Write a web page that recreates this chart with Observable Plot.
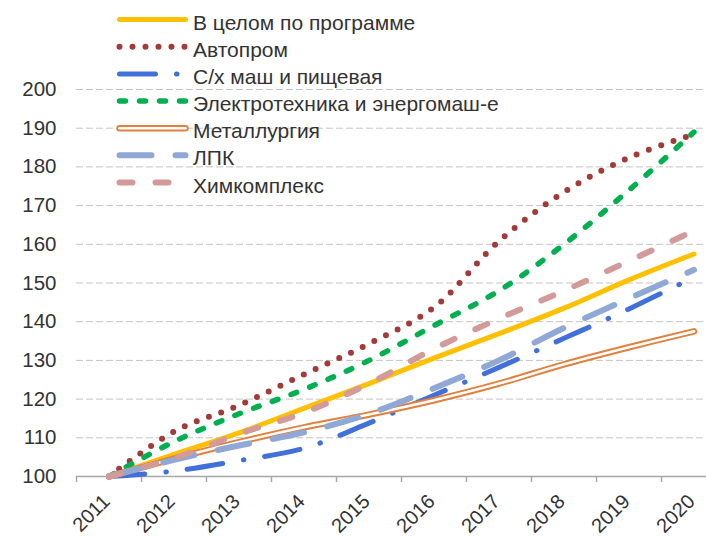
<!DOCTYPE html>
<html><head><meta charset="utf-8">
<script src="https://cdn.jsdelivr.net/npm/d3@7"></script>
<script src="https://cdn.jsdelivr.net/npm/@observablehq/plot@0.6"></script>
<style>
body{margin:0;background:#fff;}
#chart{position:relative;width:706px;height:536px;overflow:hidden;font-family:"Liberation Sans",Arial,sans-serif;}
#legend{position:absolute;left:0;top:0;pointer-events:none;}
</style></head><body><div id="chart"></div>
<script>
// ---- data ----
const years = [2011, 2012, 2013, 2014, 2015, 2016, 2017, 2018, 2019, 2020];
const yTicks = [100, 110, 120, 130, 140, 150, 160, 170, 180, 190, 200];
const seriesNames = [
  "В целом по программе",
  "Автопром",
  "С/х маш и пищевая",
  "Электротехника и энергомаш-е",
  "Металлургия",
  "ЛПК",
  "Химкомплекс"
];
const programme = [100, 105.7, 111.3, 117.6, 124.0, 130.6, 136.9, 143.5, 150.8, 157.5];
const autoprom  = [100, 111.6, 118.4, 126.4, 134.3, 143.7, 160.8, 173.5, 182.4, 188.4];
const agriFood  = [100, 101.4, 104.1, 107.3, 113.8, 121.0, 128.2, 135.7, 143.3, 151.5];
const electro   = [100, 109.0, 116.2, 122.5, 130.0, 139.0, 148.0, 160.0, 174.0, 189.0];
const metal     = [100, 104.6, 108.9, 112.7, 116.0, 119.7, 124.0, 129.0, 133.4, 137.5];
const lpk       = [100, 104.3, 108.0, 111.4, 116.2, 122.8, 130.0, 138.4, 146.0, 153.4];
const chem      = [100, 104.7, 111.0, 116.5, 124.0, 133.0, 140.8, 148.0, 155.7, 163.5];
const seriesValues = [programme, autoprom, agriFood, electro, metal, lpk, chem];

// ---- styles ----
const styles = [
  {stroke: "#FFC000", strokeWidth: 5},
  {stroke: "#A23B38", strokeWidth: 6, strokeDasharray: "0 13"},
  {stroke: "#4170DA", strokeWidth: 5, strokeDasharray: "36 21 0.5 21"},
  {stroke: "#00B050", strokeWidth: 5.5, strokeDasharray: "6 14"},
  {stroke: "#E2803D", strokeWidth: 6.5, double: true},
  {stroke: "#8FA8D6", strokeWidth: 6, strokeDasharray: "32 24"},
  {stroke: "#D29A98", strokeWidth: 6, strokeDasharray: "13 23"}
];
const fontFamily = "'Liberation Sans', Arial, sans-serif";
const textColor = "#333";

const tables = seriesValues.map((vals, si) => years.map((yr, i) => ({year: yr, value: vals[i], series: seriesNames[si]})));

const lineMarks = [];
tables.forEach((t, si) => {
  const s = styles[si];
  const common = {x: "year", y: "value", curve: "catmull-rom", strokeLinecap: "round", strokeLinejoin: "round"};
  lineMarks.push(Plot.line(t, {...common, stroke: s.stroke, strokeWidth: s.strokeWidth, strokeDasharray: s.strokeDasharray}));
  if (s.double) lineMarks.push(Plot.line(t, {...common, stroke: "#fff", strokeWidth: 2.6}));
});

const boundaries = years.map(y => y - 0.5);

const chart = Plot.plot({
  width: 706,
  height: 536,
  marginLeft: 76,
  marginRight: 0,
  marginTop: 89,
  marginBottom: 60,
  style: {fontFamily, fontSize: "20.5px", color: textColor, background: "transparent"},
  x: {domain: [2010.5, 2020.5], range: [76, 726]},
  y: {domain: [100, 200]},
  marks: [
    Plot.gridY(yTicks.filter(t => t > 100), {stroke: "#c4c4c4", strokeOpacity: 1, strokeWidth: 1, strokeDasharray: "7 3"}),
    Plot.axisY(yTicks, {tickSize: 0, tickPadding: 20, fontSize: 20.5, fill: textColor, label: null}),
    Plot.ruleY([100], {stroke: "#a6a6a6", strokeWidth: 1.4}),
    Plot.axisX(boundaries, {tickSize: 6, stroke: "#a6a6a6", strokeWidth: 1.4, tickFormat: () => "", label: null}),
    Plot.text(years, {x: d => d, frameAnchor: "bottom", text: d => String(d), rotate: -45, textAnchor: "end", lineAnchor: "top", dy: 16, dx: -8, fontSize: 20, fill: textColor}),
    ...lineMarks
  ]
});
document.getElementById("chart").appendChild(chart);

// ---- legend ----
const legend = d3.select("#chart").append("svg").attr("id", "legend").attr("width", 706).attr("height", 200);
seriesNames.forEach((name, i) => {
  const cy = 19.6 + 27.15 * i;
  const s = styles[i];
  const g = legend.append("g");
  const add = (stroke, w, dash) => g.append("line")
    .attr("x1", 119.5).attr("x2", 185.5).attr("y1", cy).attr("y2", cy)
    .attr("stroke", stroke).attr("stroke-width", w)
    .attr("stroke-linecap", "round").attr("stroke-dasharray", dash || null);
  add(s.stroke, s.strokeWidth, s.strokeDasharray);
  if (s.double) add("#fff", 2.6, null);
  g.append("text").attr("x", 193).attr("y", cy + 10)
    .attr("font-family", fontFamily).attr("font-size", 21).attr("fill", textColor)
    .text(name);
});
</script></body></html>
